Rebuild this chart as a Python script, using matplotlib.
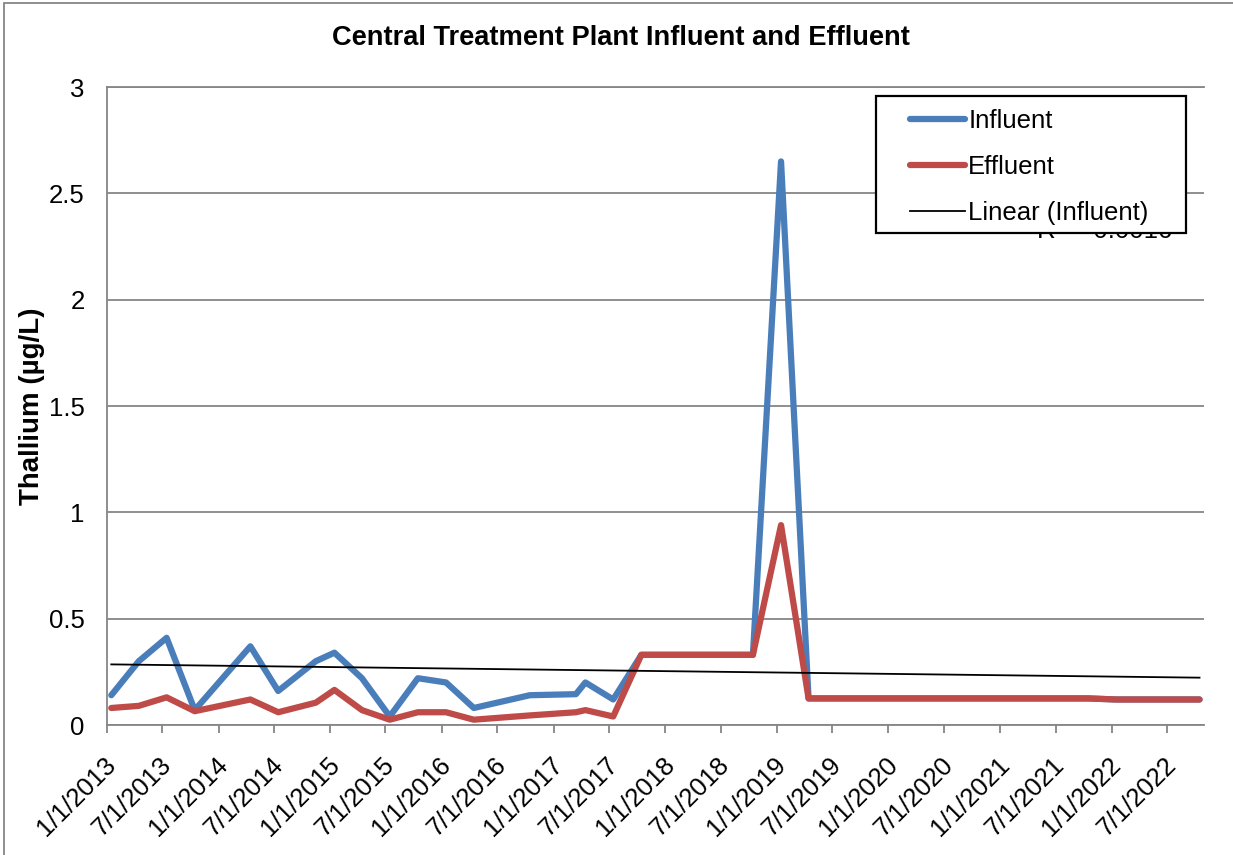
import datetime as dt
import numpy as np
import matplotlib
matplotlib.use('Agg')
import matplotlib.pyplot as plt
import matplotlib.dates as mdates
from matplotlib.patches import Rectangle
from matplotlib.transforms import ScaledTranslation

plt.rcParams['font.family'] = ['Liberation Sans', 'DejaVu Sans']

# quarterly thallium samples, ug/L
sample_dates = [
    dt.date(2013, 1, 15), dt.date(2013, 4, 15), dt.date(2013, 7, 15), dt.date(2013, 10, 15),
    dt.date(2014, 4, 15), dt.date(2014, 7, 15), dt.date(2014, 11, 15),
    dt.date(2015, 1, 15), dt.date(2015, 4, 15), dt.date(2015, 7, 15), dt.date(2015, 10, 15),
    dt.date(2016, 1, 15), dt.date(2016, 4, 15), dt.date(2016, 10, 15),
    dt.date(2017, 3, 15), dt.date(2017, 4, 15), dt.date(2017, 7, 15), dt.date(2017, 10, 15),
    dt.date(2018, 1, 15), dt.date(2018, 4, 15), dt.date(2018, 7, 15), dt.date(2018, 10, 15),
    dt.date(2019, 1, 15), dt.date(2019, 4, 15), dt.date(2019, 7, 15), dt.date(2019, 10, 15),
    dt.date(2020, 1, 15), dt.date(2020, 4, 15), dt.date(2020, 7, 15), dt.date(2020, 10, 15),
    dt.date(2021, 1, 15), dt.date(2021, 4, 15), dt.date(2021, 7, 15), dt.date(2021, 10, 15),
    dt.date(2022, 1, 15), dt.date(2022, 4, 15), dt.date(2022, 7, 15), dt.date(2022, 10, 15),
]
influent = [
    0.14, 0.30, 0.41, 0.07,
    0.37, 0.16, 0.30,
    0.34, 0.22, 0.04, 0.22,
    0.20, 0.08, 0.14,
    0.145, 0.20, 0.12, 0.33,
    0.33, 0.33, 0.33, 0.33,
    2.65, 0.125, 0.125, 0.125,
    0.125, 0.125, 0.125, 0.125,
    0.125, 0.125, 0.125, 0.125,
    0.12, 0.12, 0.12, 0.12,
]
effluent = [
    0.08, 0.09, 0.13, 0.065,
    0.12, 0.06, 0.105,
    0.165, 0.07, 0.025, 0.06,
    0.06, 0.025, 0.045,
    0.06, 0.07, 0.04, 0.33,
    0.33, 0.33, 0.33, 0.33,
    0.94, 0.125, 0.125, 0.125,
    0.125, 0.125, 0.125, 0.125,
    0.125, 0.125, 0.125, 0.125,
    0.12, 0.12, 0.12, 0.12,
]
tick_dates = [dt.date(2013 + i // 2, 1 + 6 * (i % 2), 1) for i in range(20)]
tick_labels = [f"{d.month}/{d.day}/{d.year}" for d in tick_dates]
y_ticks = [0, 0.5, 1, 1.5, 2, 2.5, 3]
y_labels = ['0', '0.5', '1', '1.5', '2', '2.5', '3']

W, H = 1233, 855
fig = plt.figure(figsize=(W / 100, H / 100), dpi=100)
ax = fig.add_axes([107 / W, 1 - 725 / H, (1203.5 - 107) / W, (725 - 87) / H])

grey = '#868686'
blue = '#4A7EBB'
red = '#BE4B48'

xn = mdates.date2num(sample_dates)
ax.plot(sample_dates, influent, color=blue, lw=4.5, solid_capstyle='round',
        solid_joinstyle='round', label='Influent', zorder=3)
ax.plot(sample_dates, effluent, color=red, lw=4.5, solid_capstyle='round',
        solid_joinstyle='round', label='Effluent', zorder=3.1)

# least squares trend of the influent
slope, icpt = np.polyfit(xn, influent, 1)
trend_x = np.array([xn[0], xn[-1]])
ax.plot(mdates.num2date(trend_x), slope * trend_x + icpt, color='black', lw=1.3,
        label='Linear (Influent)', zorder=3.2)

ax.set_xlim(dt.date(2013, 1, 1), dt.date(2022, 10, 28))
ax.set_ylim(0, 3)
ax.set_xticks(tick_dates)
ax.set_xticklabels(tick_labels, rotation=45, ha='right', va='top',
                   rotation_mode='anchor', fontsize=18.5)
ax.set_yticks(y_ticks)
ax.set_yticklabels(y_labels, fontsize=18.5)
ax.tick_params(axis='x', direction='out', length=6, width=1.3, color=grey, pad=14)
ax.tick_params(axis='y', length=0, pad=16)
shift = ScaledTranslation(-3 / 100, 0, fig.dpi_scale_trans)
for lab in ax.get_xticklabels():
    lab.set_transform(lab.get_transform() + shift)

ax.yaxis.grid(True, color=grey, lw=1.3)
ax.set_axisbelow(True)
for side in ['left', 'bottom', 'top']:
    ax.spines[side].set_color(grey)
    ax.spines[side].set_linewidth(1.3)
ax.spines['right'].set_visible(False)

ax.set_ylabel('Thallium (µg/L)', fontsize=20, fontweight='bold', labelpad=3)
fig.text(621 / W, 1 - 38 / H, 'Central Treatment Plant Influent and Effluent',
         ha='center', va='center', fontsize=19.6, fontweight='bold')

# trendline statistic, partly hidden behind the legend box
ax.text((1172 - 107) / (1203.5 - 107), (725 - 238) / (725 - 87), 'R² = 0.0016',
        transform=ax.transAxes, ha='right', va='baseline', fontsize=18.5, zorder=3.5)

box = Rectangle(((876 - 107) / (1203.5 - 107), (725 - 233) / (725 - 87)),
                (1186 - 876) / (1203.5 - 107), (233 - 96) / (725 - 87),
                transform=ax.transAxes, facecolor='white', edgecolor='black',
                lw=1.6, zorder=4)
ax.add_patch(box)
leg = ax.legend(loc='upper left',
                bbox_to_anchor=((910 - 107) / (1203.5 - 107), (725 - 109) / (725 - 87)),
                frameon=False, fontsize=18.5, handlelength=2.15, handletextpad=0.12,
                labelspacing=0.86, borderpad=0, borderaxespad=0)
leg.set_zorder(5)

fig.patches.append(Rectangle((4 / W, -0.2), 1.5, 1.2 - 2.7 / H, transform=fig.transFigure,
                             facecolor='none', edgecolor=grey, lw=1.3))

fig.savefig('out.png', dpi=100)
